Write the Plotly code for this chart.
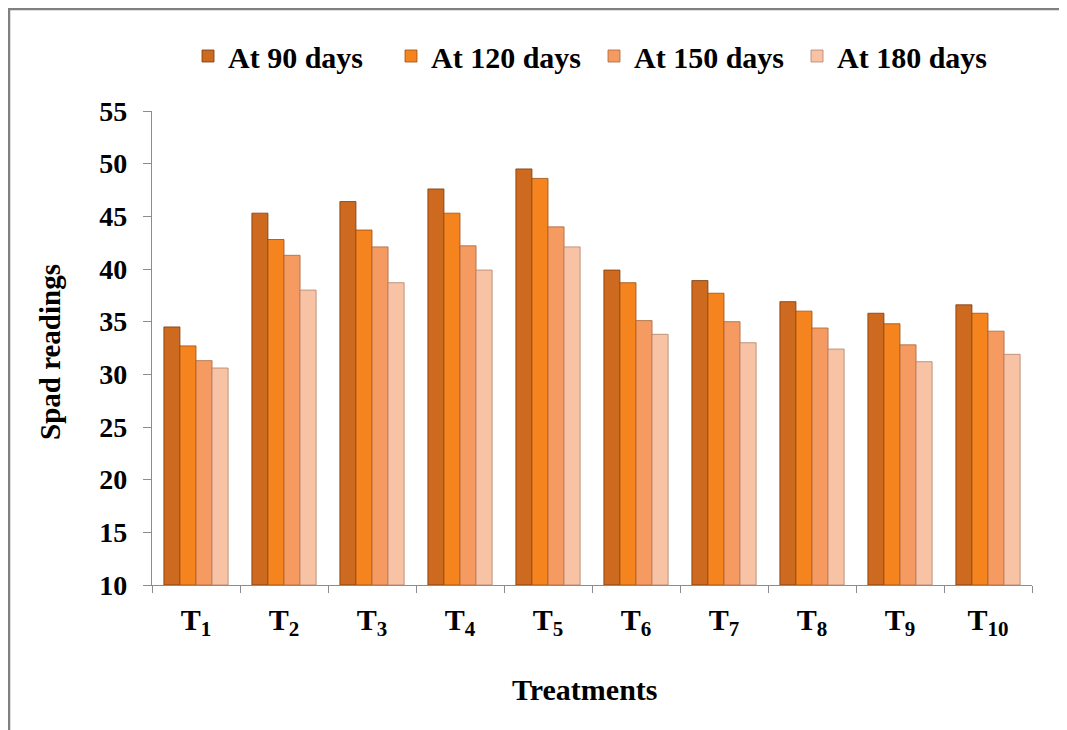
import plotly.graph_objects as go

categories = ["T<sub>1</sub>", "T<sub>2</sub>", "T<sub>3</sub>", "T<sub>4</sub>", "T<sub>5</sub>",
              "T<sub>6</sub>", "T<sub>7</sub>", "T<sub>8</sub>", "T<sub>9</sub>", "T<sub>10</sub>"]
series_names = ["At 90 days", "At 120 days", "At 150 days", "At 180 days"]
d90 = [34.5, 45.3, 46.4, 47.6, 49.5, 39.9, 38.9, 36.9, 35.8, 36.6]
d120 = [32.7, 42.8, 43.7, 45.3, 48.6, 38.7, 37.7, 36.0, 34.8, 35.8]
d150 = [31.3, 41.3, 42.1, 42.2, 44.0, 35.1, 35.0, 34.4, 32.8, 34.1]
d180 = [30.6, 38.0, 38.7, 39.9, 42.1, 33.8, 33.0, 32.4, 31.2, 31.9]
y_ticks = [10, 15, 20, 25, 30, 35, 40, 45, 50, 55]

colors = ["#CD6A1F", "#F5841F", "#F59B62", "#F8C3A5"]
edges = ["#7A3A0C", "#9A4E12", "#A8643A", "#B0826A"]

# page body has an 8px margin; figure sized to fit inside the window
W, H = 1059, 722
ML, MR, MT, MB = 144, 35, 103, 145
PW, PH = W - ML - MR, H - MT - MB

fig = go.Figure()
for name, vals, c, e in zip(series_names, [d90, d120, d150, d180], colors, edges):
    fig.add_trace(go.Bar(x=categories, y=[v - 10 for v in vals], base=10, name=name,
                         marker=dict(color=c, line=dict(color=e, width=0.8)),
                         hovertext=[str(v) for v in vals]))

FF = "Liberation Serif"

def px_x(px):
    return (px - ML) / PW

def px_y(py):
    return (H - MB - py) / PH

fig.update_layout(
    width=W, height=H,
    margin=dict(l=ML, r=MR, t=MT, b=MB),
    paper_bgcolor="white", plot_bgcolor="white",
    barmode="group", bargap=0.27, bargroupgap=0.0,
    font=dict(family=FF, color="black"),
    showlegend=True,
    legend=dict(orientation="h", x=px_x(180), xanchor="left", y=px_y(48), yanchor="middle",
                font=dict(family=FF, size=30, color="black", weight="bold"),
                itemwidth=30, entrywidth=158, entrywidthmode="pixels",
                tracegroupgap=0, traceorder="normal"),
    xaxis=dict(
        showline=True, linecolor="#8c8c8c", linewidth=1.2,
        ticks="outside", ticklen=7, tickcolor="#8c8c8c", tickson="boundaries",
        tickfont=dict(family=FF, size=30, color="black", weight="bold"),
        ticklabelstandoff=8,
        showgrid=False,
    ),
    yaxis=dict(
        range=[10, 55], tickvals=y_ticks,
        showline=True, linecolor="#8c8c8c", linewidth=1.2,
        ticks="outside", ticklen=8, tickcolor="#8c8c8c",
        tickfont=dict(family=FF, size=28, color="black", weight="bold"),
        ticklabelstandoff=10,
        showgrid=False, zeroline=False,
    ),
    annotations=[
        dict(text="Spad readings", xref="paper", yref="paper", x=px_x(42), y=px_y(344),
             xanchor="center", yanchor="middle", textangle=-90, showarrow=False,
             font=dict(family=FF, size=29, color="black", weight="bold")),
        dict(text="Treatments", xref="paper", yref="paper", x=px_x(577), y=px_y(681),
             xanchor="center", yanchor="middle", showarrow=False,
             font=dict(family=FF, size=30, color="black", weight="bold")),
    ],
    shapes=[
        dict(type="line", xref="paper", yref="paper", x0=px_x(0), x1=px_x(W + 5), y0=px_y(1), y1=px_y(1),
             line=dict(color="#808080", width=2.5)),
        dict(type="line", xref="paper", yref="paper", x0=px_x(1), x1=px_x(1), y0=px_y(0), y1=px_y(H + 5),
             line=dict(color="#808080", width=2.5)),
    ],
)

fig.write_html("out.html")
